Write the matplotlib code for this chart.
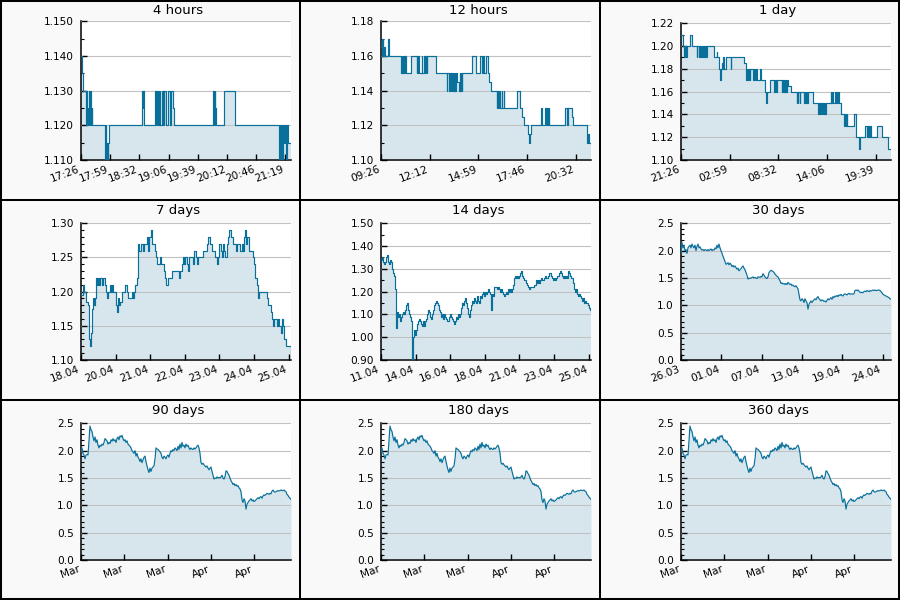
import matplotlib
matplotlib.use('Agg')
import matplotlib.pyplot as plt
from matplotlib.lines import Line2D
from matplotlib.patches import Rectangle
from matplotlib.ticker import MultipleLocator, FormatStrFormatter, FixedLocator
import numpy as np

LINE = '#08709a'
FILL = '#d7e6ed'
GRID = '#c2c2c2'
BG = '#f9f9f9'

# 4 hours (minutes since 17:26)
t_4h = [0, 0.8, 1.9, 6.1, 6.6, 7.2, 7.7, 8.4, 8.8, 10.3,
        10.8, 11.4, 12.0, 12.6, 27.4, 28.0, 28.6, 29.4, 30.5, 31.2,
        32.0, 69.3, 70.5, 71.0, 72.4, 85.0, 85.5, 86.0, 86.6, 88.4,
        89.0, 90.3, 90.8, 92.6, 93.2, 94.0, 94.5, 95.2, 97.0, 99.8,
        101.7, 102.5, 105.0, 106.3, 151.0, 151.6, 153.0, 153.5, 154.0, 163.4,
        176.0, 226.7, 227.2, 227.8, 228.4, 230.0, 230.6, 232.4, 233.0, 234.3,
        234.9, 236.6, 240.0]
v_4h = [1.140, 1.135, 1.130, 1.120, 1.130, 1.120, 1.125, 1.120, 1.130, 1.120,
        1.130, 1.120, 1.125, 1.120, 1.110, 1.120, 1.110, 1.115, 1.110, 1.115,
        1.120, 1.130, 1.125, 1.130, 1.120, 1.130, 1.120, 1.130, 1.120, 1.130,
        1.120, 1.130, 1.120, 1.130, 1.120, 1.130, 1.120, 1.130, 1.120, 1.130,
        1.120, 1.130, 1.125, 1.120, 1.130, 1.120, 1.130, 1.125, 1.120, 1.130,
        1.120, 1.110, 1.120, 1.110, 1.120, 1.110, 1.120, 1.115, 1.120, 1.110,
        1.120, 1.115, 1.115]
lbl_4h = ['17:26', '17:59', '18:32', '19:06', '19:39', '20:12', '20:46', '21:19']

# 12 hours (minutes since 09:26)
pts_12h = [(0, 1.165), (2, 1.17), (4, 1.16), (5.5, 1.17), (8, 1.16), (11.4, 1.165), (13, 1.16),
           (25, 1.17), (27, 1.16), (68.6, 1.15), (71, 1.16), (73, 1.15), (75, 1.16), (77, 1.15),
           (79, 1.16), (81, 1.15), (83, 1.16), (85, 1.15), (102.9, 1.16), (122.3, 1.15),
           (124.5, 1.16), (126.5, 1.15), (128.5, 1.16), (130.5, 1.15), (140, 1.16), (142, 1.15),
           (147.4, 1.16), (149.5, 1.15), (151.5, 1.16), (153.5, 1.15), (155.5, 1.16), (157.5, 1.15),
           (158.9, 1.16), (188.6, 1.15), (225, 1.14), (227, 1.15), (233, 1.14), (235, 1.15),
           (239, 1.14), (241, 1.15), (243, 1.14), (245, 1.15), (247, 1.14), (249, 1.15),
           (251, 1.14), (253, 1.15), (255, 1.14), (257, 1.15), (259, 1.145), (268.6, 1.14),
           (270.5, 1.15), (272.5, 1.14), (274.5, 1.15), (276.5, 1.14), (278.9, 1.15),
           (313, 1.16), (324.6, 1.15), (340.6, 1.16), (347, 1.15), (348.5, 1.16), (353, 1.15),
           (360, 1.16), (365.7, 1.15), (371.4, 1.145), (376, 1.14), (396.6, 1.13), (398.5, 1.14),
           (400.5, 1.13), (402.5, 1.14), (404.5, 1.13), (406.5, 1.14), (408, 1.13), (414.9, 1.14),
           (416, 1.13), (421.7, 1.14), (423, 1.13), (466.3, 1.14), (476.6, 1.13), (483.4, 1.125),
           (490.3, 1.12), (505, 1.115), (508.6, 1.11), (510, 1.115), (513, 1.12), (547.4, 1.13),
           (553, 1.12), (562.3, 1.13), (564.5, 1.12), (566.5, 1.13), (568.5, 1.12), (570.5, 1.13),
           (572.5, 1.12), (574.5, 1.13), (576.5, 1.12), (630.9, 1.13), (636.6, 1.12), (642.3, 1.13),
           (653.7, 1.125), (657, 1.12), (705, 1.115), (707, 1.11), (709, 1.115), (712, 1.11),
           (720, 1.11)]
t_12h = [p[0] for p in pts_12h]
v_12h = [p[1] for p in pts_12h]
lbl_12h = ['09:26', '12:12', '14:59', '17:46', '20:32']

# 1 day (minutes since 21:26)
pts_1d = [(0, 1.21), (14, 1.20), (20, 1.19), (24, 1.20), (27, 1.19), (31, 1.20), (35, 1.19),
          (39, 1.20), (62, 1.21), (73, 1.20), (107, 1.19), (112, 1.20), (120, 1.19), (125, 1.20),
          (130, 1.19), (135, 1.20), (140, 1.19), (145, 1.20), (150, 1.19), (155, 1.20), (160, 1.19),
          (166, 1.20), (171, 1.19), (176, 1.20), (229, 1.19), (245, 1.195), (249, 1.19), (263, 1.18),
          (270, 1.17), (274, 1.18), (279, 1.185), (284, 1.18), (290, 1.19), (294, 1.18), (309, 1.19),
          (341, 1.18), (345, 1.19), (432, 1.185), (446, 1.17), (452, 1.18), (458, 1.17), (464, 1.18),
          (470, 1.17), (476, 1.18), (496, 1.17), (503, 1.18), (507, 1.17), (514, 1.18), (519, 1.17),
          (542, 1.18), (549, 1.17), (576, 1.16), (585, 1.15), (588, 1.16), (610, 1.17), (640, 1.16),
          (645, 1.17), (650, 1.16), (655, 1.17), (690, 1.16), (695, 1.17), (700, 1.16), (705, 1.17),
          (713, 1.16), (718, 1.17), (723, 1.16), (728, 1.17), (736, 1.165), (752, 1.16), (793, 1.15),
          (797, 1.16), (801, 1.15), (805, 1.16), (815, 1.15), (818, 1.16), (843, 1.15), (848, 1.16),
          (853, 1.15), (858, 1.16), (863, 1.15), (868, 1.16), (903, 1.15), (942, 1.14), (946, 1.15),
          (950, 1.14), (954, 1.15), (958, 1.14), (962, 1.15), (966, 1.14), (970, 1.15), (974, 1.14),
          (978, 1.15), (982, 1.14), (986, 1.15), (990, 1.14), (994, 1.15), (1026, 1.16), (1031, 1.15),
          (1035, 1.16), (1040, 1.15), (1056, 1.16), (1061, 1.15), (1066, 1.16), (1071, 1.15),
          (1076, 1.16), (1083, 1.15), (1097, 1.14), (1120, 1.13), (1125, 1.14), (1129, 1.13),
          (1136, 1.14), (1140, 1.13), (1186, 1.14), (1200, 1.12), (1223, 1.11), (1230, 1.12),
          (1262, 1.13), (1273, 1.12), (1285, 1.13), (1290, 1.12), (1295, 1.13), (1300, 1.12),
          (1342, 1.13), (1376, 1.12), (1422, 1.11), (1440, 1.11)]
t_1d = [p[0] for p in pts_1d]
v_1d = [p[1] for p in pts_1d]
lbl_1d = ['21:26', '02:59', '08:32', '14:06', '19:39']

# 7 days (days since 18.04)
t_7d = [0.00, 0.06, 0.10, 0.17, 0.22, 0.26, 0.28, 0.30, 0.32, 0.36,
        0.41, 0.44, 0.47, 0.49, 0.52, 0.56, 0.59, 0.63, 0.69, 0.74,
        0.80, 0.83, 0.88, 0.91, 0.97, 1.00, 1.03, 1.08, 1.13, 1.17,
        1.19, 1.22, 1.26, 1.30, 1.36, 1.41, 1.47, 1.52, 1.58, 1.63,
        1.69, 1.72, 1.77, 1.80, 1.86, 1.89, 1.91, 1.94, 2.00, 2.06,
        2.10, 2.17, 2.19, 2.22, 2.27, 2.32, 2.36, 2.41, 2.47, 2.50,
        2.52, 2.58, 2.63, 2.68, 2.72, 2.77, 2.80, 2.83, 2.88, 2.91,
        2.97, 3.02, 3.08, 3.19, 3.27, 3.30, 3.36, 3.39, 3.43, 3.47,
        3.52, 3.58, 3.61, 3.67, 3.72, 3.77, 3.82, 3.88, 3.91, 3.97,
        4.02, 4.08, 4.13, 4.19, 4.24, 4.30, 4.36, 4.41, 4.47, 4.52,
        4.58, 4.61, 4.66, 4.69, 4.72, 4.77, 4.81, 4.86, 4.91, 4.94,
        4.99, 5.02, 5.08, 5.13, 5.17, 5.21, 5.26, 5.30, 5.36, 5.39,
        5.43, 5.47, 5.50, 5.54, 5.59, 5.63, 5.69, 5.74, 5.78, 5.81,
        5.86, 5.91, 5.94, 5.99, 6.08, 6.13, 6.19, 6.22, 6.28, 6.32,
        6.36, 6.39, 6.43, 6.48, 6.52, 6.57, 6.61, 6.66, 6.70, 6.74,
        6.78, 6.82, 6.87, 6.92, 6.97, 7.00]
v_7d = [1.195, 1.21, 1.20, 1.185, 1.18, 1.175, 1.13, 1.12, 1.14, 1.175,
        1.19, 1.18, 1.19, 1.22, 1.21, 1.22, 1.21, 1.22, 1.21, 1.22,
        1.21, 1.20, 1.19, 1.20, 1.21, 1.20, 1.21, 1.20, 1.20, 1.18,
        1.17, 1.19, 1.18, 1.185, 1.20, 1.20, 1.21, 1.20, 1.19, 1.19,
        1.20, 1.19, 1.20, 1.21, 1.22, 1.25, 1.27, 1.26, 1.27, 1.26,
        1.27, 1.27, 1.28, 1.26, 1.28, 1.29, 1.27, 1.27, 1.26, 1.25,
        1.24, 1.24, 1.25, 1.24, 1.24, 1.23, 1.22, 1.21, 1.21, 1.22,
        1.22, 1.23, 1.23, 1.23, 1.22, 1.23, 1.24, 1.25, 1.24, 1.25,
        1.24, 1.23, 1.25, 1.25, 1.24, 1.26, 1.25, 1.24, 1.25, 1.25,
        1.25, 1.26, 1.26, 1.27, 1.28, 1.27, 1.26, 1.26, 1.25, 1.24,
        1.25, 1.27, 1.26, 1.25, 1.27, 1.26, 1.25, 1.27, 1.28, 1.29,
        1.28, 1.28, 1.27, 1.27, 1.26, 1.27, 1.27, 1.26, 1.27, 1.26,
        1.28, 1.29, 1.27, 1.28, 1.26, 1.26, 1.26, 1.25, 1.24, 1.22,
        1.21, 1.19, 1.20, 1.20, 1.20, 1.20, 1.19, 1.18, 1.18, 1.17,
        1.16, 1.15, 1.16, 1.16, 1.15, 1.16, 1.15, 1.14, 1.16, 1.15,
        1.13, 1.12, 1.12, 1.12, 1.12, 1.11]
lbl_7d = ['18.04', '20.04', '21.04', '22.04', '23.04', '24.04', '25.04']

# 14 days, evenly sampled
v_14d = [1.34, 1.35, 1.33, 1.32, 1.33, 1.35, 1.36, 1.33, 1.32, 1.34,
         1.33, 1.30, 1.28, 1.27, 1.21, 1.04, 1.11, 1.09, 1.10, 1.07,
         1.09, 1.10, 1.11, 1.10, 1.12, 1.14, 1.15, 1.12, 1.10, 1.09,
         1.07, 0.90, 1.00, 1.03, 1.01, 1.03, 1.06, 1.07, 1.08, 1.07,
         1.06, 1.05, 1.07, 1.05, 1.07, 1.08, 1.10, 1.12, 1.11, 1.09,
         1.08, 1.10, 1.12, 1.14, 1.15, 1.16, 1.15, 1.14, 1.12, 1.11,
         1.09, 1.10, 1.08, 1.10, 1.09, 1.08, 1.07, 1.07, 1.09, 1.10,
         1.09, 1.08, 1.07, 1.06, 1.07, 1.09, 1.08, 1.10, 1.09, 1.10,
         1.13, 1.15, 1.14, 1.16, 1.17, 1.15, 1.13, 1.10, 1.09, 1.12,
         1.14, 1.16, 1.15, 1.17, 1.16, 1.15, 1.18, 1.16, 1.15, 1.18,
         1.17, 1.19, 1.20, 1.18, 1.20, 1.19, 1.20, 1.21, 1.20, 1.19,
         1.12, 1.19, 1.18, 1.22, 1.22, 1.22, 1.21, 1.22, 1.21, 1.20,
         1.21, 1.20, 1.19, 1.18, 1.19, 1.20, 1.19, 1.21, 1.20, 1.21,
         1.20, 1.21, 1.23, 1.26, 1.27, 1.26, 1.27, 1.26, 1.27, 1.28,
         1.29, 1.27, 1.26, 1.25, 1.25, 1.24, 1.23, 1.22, 1.21, 1.22,
         1.22, 1.22, 1.22, 1.23, 1.23, 1.25, 1.24, 1.25, 1.24, 1.25,
         1.26, 1.25, 1.25, 1.26, 1.27, 1.26, 1.26, 1.27, 1.28, 1.28,
         1.27, 1.26, 1.25, 1.26, 1.25, 1.26, 1.27, 1.27, 1.28, 1.29,
         1.28, 1.27, 1.26, 1.27, 1.26, 1.27, 1.26, 1.29, 1.28, 1.27,
         1.26, 1.26, 1.24, 1.21, 1.20, 1.21, 1.19, 1.18, 1.19, 1.18,
         1.17, 1.16, 1.17, 1.15, 1.16, 1.15, 1.15, 1.14, 1.13, 1.12,
         1.11]
lbl_14d = ['11.04', '14.04', '16.04', '18.04', '21.04', '23.04', '25.04']

# 30 days, evenly sampled
v_30d = [1.95, 2.15, 2.05, 2.10, 2.00, 2.02, 1.95, 2.05, 2.08, 2.10,
         2.05, 2.12, 2.08, 2.05, 2.10, 2.00, 2.08, 2.12, 2.05, 2.07,
         2.03, 2.01, 2.02, 2.00, 2.02, 2.01, 2.00, 2.02, 2.00, 2.02,
         2.03, 2.00, 2.02, 2.01, 2.05, 2.03, 2.10, 2.05, 2.12, 2.05,
         2.00, 1.95, 1.90, 1.85, 1.80, 1.75, 1.76, 1.78, 1.74, 1.77,
         1.75, 1.71, 1.73, 1.70, 1.72, 1.69, 1.66, 1.68, 1.63, 1.65,
         1.67, 1.70, 1.72, 1.68, 1.65, 1.60, 1.55, 1.48, 1.50, 1.49,
         1.50, 1.51, 1.52, 1.50, 1.51, 1.50, 1.49, 1.52, 1.52, 1.51,
         1.53, 1.52, 1.58, 1.55, 1.52, 1.50, 1.49, 1.52, 1.60, 1.62,
         1.64, 1.63, 1.62, 1.60, 1.57, 1.55, 1.53, 1.52, 1.48, 1.45,
         1.40, 1.41, 1.39, 1.40, 1.38, 1.40, 1.38, 1.42, 1.40, 1.38,
         1.39, 1.36, 1.37, 1.35, 1.34, 1.36, 1.33, 1.30, 1.20, 1.10,
         1.08, 1.12, 1.10, 1.05, 1.12, 1.08, 1.05, 0.93, 1.02, 1.05,
         1.08, 1.05, 1.08, 1.10, 1.12, 1.10, 1.14, 1.16, 1.12, 1.10,
         1.08, 1.10, 1.09, 1.07, 1.08, 1.06, 1.09, 1.12, 1.10, 1.12,
         1.14, 1.11, 1.16, 1.14, 1.17, 1.16, 1.18, 1.16, 1.19, 1.18,
         1.20, 1.18, 1.17, 1.20, 1.21, 1.20, 1.19, 1.21, 1.22, 1.20,
         1.21, 1.21, 1.20, 1.21, 1.27, 1.28, 1.27, 1.28, 1.26, 1.24,
         1.23, 1.24, 1.23, 1.25, 1.26, 1.25, 1.27, 1.26, 1.25, 1.27,
         1.26, 1.27, 1.28, 1.27, 1.28, 1.27, 1.27, 1.28, 1.28, 1.27,
         1.25, 1.23, 1.20, 1.19, 1.18, 1.17, 1.16, 1.15, 1.14, 1.12,
         1.11]
lbl_30d = ['26.03', '01.04', '07.04', '13.04', '19.04', '24.04']

# full history (same for 90 / 180 / 360 days), evenly sampled over ~48 days
v_hist = [2.00, 2.05, 1.95, 1.92, 1.85, 1.92, 1.93, 1.92, 2.20, 2.45,
          2.38, 2.35, 2.25, 2.18, 2.25, 2.15, 2.20, 2.10, 2.05, 2.10,
          2.08, 2.12, 2.10, 2.15, 2.22, 2.20, 2.18, 2.12, 2.15, 2.13,
          2.20, 2.17, 2.22, 2.18, 2.20, 2.15, 2.22, 2.25, 2.20, 2.27,
          2.25, 2.28, 2.22, 2.18, 2.20, 2.15, 2.18, 2.12, 2.10, 2.08,
          2.05, 2.00, 1.98, 1.95, 2.00, 1.90, 1.95, 1.88, 1.85, 1.80,
          1.85, 1.78, 1.83, 1.88, 1.90, 1.80, 1.72, 1.65, 1.60, 1.68,
          1.62, 1.68, 1.70, 1.72, 1.85, 2.05, 2.03, 2.02, 2.00, 1.98,
          1.95, 1.88, 1.85, 1.90, 1.88, 1.85, 1.90, 1.92, 1.88, 1.95,
          2.00, 1.98, 2.02, 2.00, 2.05, 2.03, 2.00, 2.08, 2.02, 2.12,
          2.05, 2.15, 2.08, 2.10, 2.05, 2.12, 2.08, 2.10, 2.05, 2.02,
          2.05, 2.03, 2.02, 2.05, 2.03, 2.05, 2.08, 2.10, 2.05, 1.95,
          1.78, 1.75, 1.77, 1.74, 1.72, 1.70, 1.72, 1.68, 1.65, 1.68,
          1.70, 1.62, 1.55, 1.48, 1.50, 1.49, 1.52, 1.50, 1.51, 1.50,
          1.52, 1.55, 1.50, 1.48, 1.52, 1.63, 1.62, 1.58, 1.55, 1.50,
          1.45, 1.42, 1.38, 1.40, 1.36, 1.38, 1.35, 1.36, 1.32, 1.30,
          1.25, 1.10, 1.05, 1.12, 1.08, 0.93, 1.02, 1.05, 1.08, 1.10,
          1.12, 1.08, 1.10, 1.07, 1.08, 1.10, 1.12, 1.14, 1.12, 1.15,
          1.16, 1.13, 1.17, 1.19, 1.18, 1.20, 1.22, 1.21, 1.20, 1.22,
          1.21, 1.26, 1.28, 1.25, 1.24, 1.25, 1.26, 1.27, 1.26, 1.27,
          1.28, 1.27, 1.27, 1.28, 1.26, 1.25, 1.20, 1.18, 1.15, 1.13,
          1.11]
lbl_hist = ['Mar', 'Mar', 'Mar', 'Apr', 'Apr']

panels = [
    ('4 hours', t_4h, v_4h, 240, 33.37, lbl_4h, (1.11, 1.15), 0.01, 0.005, '%.3f', True),
    ('12 hours', t_12h, v_12h, 720, 166.9, lbl_12h, (1.10, 1.18), 0.02, 0.01, '%.2f', True),
    ('1 day', t_1d, v_1d, 1440, 333.7, lbl_1d, (1.10, 1.22), 0.02, 0.01, '%.2f', True),
    ('7 days', t_7d, v_7d, 7, 1.153, lbl_7d, (1.10, 1.30), 0.05, 0.01, '%.2f', True),
    ('14 days', None, v_14d, 14, 2.307, lbl_14d, (0.90, 1.50), 0.10, 0.05, '%.2f', True),
    ('30 days', None, v_30d, 30, 5.76, lbl_30d, (0.0, 2.5), 0.5, 0.1, '%.1f', False),
    ('90 days', None, v_hist, 48, 9.9, lbl_hist, (0.0, 2.5), 0.5, 0.1, '%.1f', False),
    ('180 days', None, v_hist, 48, 9.9, lbl_hist, (0.0, 2.5), 0.5, 0.1, '%.1f', False),
    ('360 days', None, v_hist, 48, 9.9, lbl_hist, (0.0, 2.5), 0.5, 0.1, '%.1f', False),
]

fig = plt.figure(figsize=(9, 6), dpi=100)
fig.patch.set_facecolor(BG)

for i, (title, x, y, span, tstep, labels, ylim, major, minor, fmt, step) in enumerate(panels):
    r, c = divmod(i, 3)
    top = 21.3 if i in (0, 1) else 23.3
    ax = fig.add_axes([(c * 300 + 81) / 900, 1 - (r * 200 + 160) / 600,
                       210 / 900, (160 - top) / 600])
    if x is None:
        x = np.linspace(0, span, len(y))
    ds = 'steps-post' if step else 'default'
    ax.fill_between(x, y, ylim[0], step='post' if step else None,
                    color=FILL, lw=0, zorder=1)
    ax.plot(x, y, color=LINE, lw=0.85, drawstyle=ds, zorder=3)
    ax.set_xlim(0, span)
    ax.set_ylim(*ylim)
    ax.set_facecolor('white')
    ax.yaxis.set_major_locator(MultipleLocator(major))
    ax.yaxis.set_minor_locator(MultipleLocator(minor))
    ax.yaxis.set_major_formatter(FormatStrFormatter(fmt))
    ax.xaxis.set_major_locator(FixedLocator(np.arange(len(labels)) * tstep))
    ax.set_xticklabels(labels, rotation=20, ha='right', fontsize=7.6)
    ax.grid(axis='y', color=GRID, lw=0.8)
    ax.set_axisbelow(False)
    for s in ('top', 'right'):
        ax.spines[s].set_visible(False)
    for s in ('left', 'bottom'):
        ax.spines[s].set_linewidth(1.1)
    ax.tick_params(axis='y', which='major', direction='in', length=4, width=1, labelsize=7.6, pad=5)
    ax.tick_params(axis='y', which='minor', direction='in', length=2, width=0.8)
    ax.tick_params(axis='x', which='major', direction='in', length=4, width=1, pad=3)
    fig.text((c * 300 + 178) / 900, 1 - (r * 200 + 10.5) / 600, title,
             ha='center', va='center', fontsize=9.5)

# panel frames
fig.patches.append(Rectangle((0, 0), 1, 1, transform=fig.transFigure,
                             fill=False, ec='black', lw=2.9))
for k in (1, 2):
    fig.lines.append(Line2D([k / 3, k / 3], [0, 1], transform=fig.transFigure, color='black', lw=1.45))
    fig.lines.append(Line2D([0, 1], [k / 3, k / 3], transform=fig.transFigure, color='black', lw=1.45))

fig.savefig('out.png', dpi=100, facecolor=BG)
